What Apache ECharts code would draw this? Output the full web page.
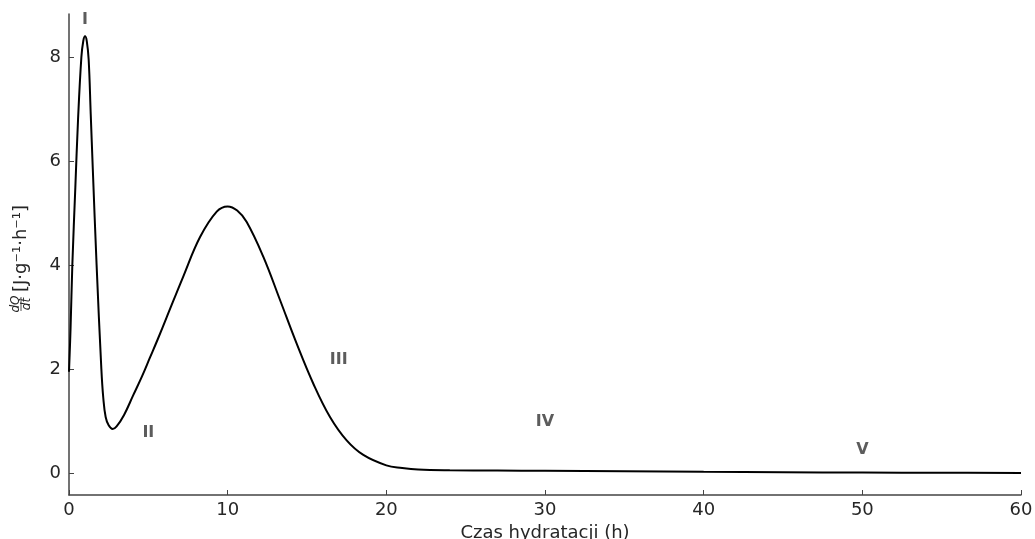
<!DOCTYPE html>
<html>
<head>
<meta charset="utf-8">
<script src="https://cdn.jsdelivr.net/npm/echarts@6/dist/echarts.min.js"></script>
<style>
  html, body { margin: 0; padding: 0; background: #fff; }
  #chart { width: 1035px; height: 539px; }
</style>
</head>
<body>
<div id="chart"></div>
<script>
// Heat-flow curve of cement hydration (isothermal calorimetry)
const hours = [0, 0.1, 0.21, 0.4, 0.57, 0.78, 0.9, 1.01, 1.12, 1.24, 1.37, 1.5, 1.74, 2.04, 2.16, 2.31, 2.5, 2.75, 3.0, 3.47,
  4.05, 4.6, 5.1, 5.6, 6.16, 7.2, 8.26, 9.31, 10.0, 10.6, 11.2, 12.25, 13.3, 14.35, 15.4, 16.45, 17.5, 18.55, 20, 21,
  22, 24, 27, 30, 35, 40, 45, 50, 55, 60];
const heatFlow = [1.95, 2.8, 4.0, 5.5, 6.8, 8.0, 8.31, 8.4, 8.31, 7.95, 6.9, 5.85, 4.0, 2.0, 1.45, 1.08, 0.92, 0.85, 0.9, 1.12,
  1.5, 1.86, 2.22, 2.58, 3.0, 3.78, 4.54, 5.03, 5.13, 5.05, 4.83, 4.16, 3.33, 2.49, 1.72, 1.08, 0.63, 0.35, 0.15, 0.1,
  0.07, 0.055, 0.05, 0.045, 0.035, 0.025, 0.018, 0.012, 0.008, 0.005];

// Hydration stage labels
const stageNames = ['I', 'II', 'III', 'IV', 'V'];
const stageHours = [1.0, 5.0, 17.0, 30.0, 50.0];
const stageLevels = [8.71, 0.77, 2.17, 0.98, 0.44];

// Axis ticks
const xTicks = [0, 10, 20, 30, 40, 50, 60];
const yTicks = [0, 2, 4, 6, 8];

const FONT = 'DejaVu Sans';
const AXIS = '#444';
const TEXT = '#262626';

const chart = echarts.init(document.getElementById('chart'), null, { renderer: 'canvas' });

chart.setOption({
  animation: false,
  backgroundColor: '#fff',
  grid: { left: 69, right: 14, top: 14, bottom: 44, containLabel: false, outerBoundsMode: 'none' },
  xAxis: {
    type: 'value',
    min: 0, max: 60, interval: 10,
    name: 'Czas hydratacji (h)',
    nameLocation: 'middle',
    nameGap: 25,
    nameTextStyle: { fontFamily: FONT, fontSize: 18, color: TEXT, verticalAlign: 'top' },
    axisLine: { onZero: false, lineStyle: { color: AXIS, width: 1.5 } },
    axisTick: { inside: true, length: 5, lineStyle: { color: AXIS, width: 1 }, customValues: xTicks },
    axisLabel: { fontFamily: FONT, fontSize: 18, color: TEXT, margin: 6, customValues: xTicks },
    splitLine: { show: false }
  },
  yAxis: {
    type: 'value',
    min: -0.42, max: 8.83,
    axisLine: { show: true, onZero: false, lineStyle: { color: AXIS, width: 1.5 } },
    axisTick: { show: true, inside: true, length: 5, lineStyle: { color: AXIS, width: 1 }, customValues: yTicks },
    axisLabel: { fontFamily: FONT, fontSize: 18, color: TEXT, margin: 8, customValues: yTicks },
    splitLine: { show: false }
  },
  series: [
    {
      type: 'line',
      data: hours.map((h, i) => [h, heatFlow[i]]),
      showSymbol: false,
      smooth: 0.4,
      lineStyle: { color: '#000', width: 2 },
      silent: true
    },
    {
      type: 'scatter',
      data: stageNames.map((n, i) => ({ value: [stageHours[i], stageLevels[i]], name: n })),
      symbolSize: 0,
      silent: true,
      label: {
        show: true,
        position: 'inside',
        formatter: p => p.name,
        fontFamily: FONT,
        fontWeight: 'bold',
        fontSize: 16,
        color: '#333'
      }
    }
  ],
  graphic: [
    {
      type: 'group',
      x: 21, y: 311,
      rotation: Math.PI / 2,
      silent: true,
      children: [
        { type: 'text', x: 7, y: -5, style: { text: 'dQ', font: 'italic 12px "DejaVu Sans"', fill: TEXT, align: 'center', verticalAlign: 'middle' } },
        { type: 'line', shape: { x1: 0, y1: 0, x2: 14, y2: 0 }, style: { stroke: TEXT, lineWidth: 0.8 } },
        { type: 'text', x: 7, y: 6, style: { text: 'dt', font: 'italic 12px "DejaVu Sans"', fill: TEXT, align: 'center', verticalAlign: 'middle' } },
        { type: 'text', x: 19, y: 0, style: { text: '[J·g⁻¹·h⁻¹]', font: '18px "DejaVu Sans"', fill: TEXT, align: 'left', verticalAlign: 'middle' } }
      ]
    }
  ]
});
</script>
</body>
</html>
